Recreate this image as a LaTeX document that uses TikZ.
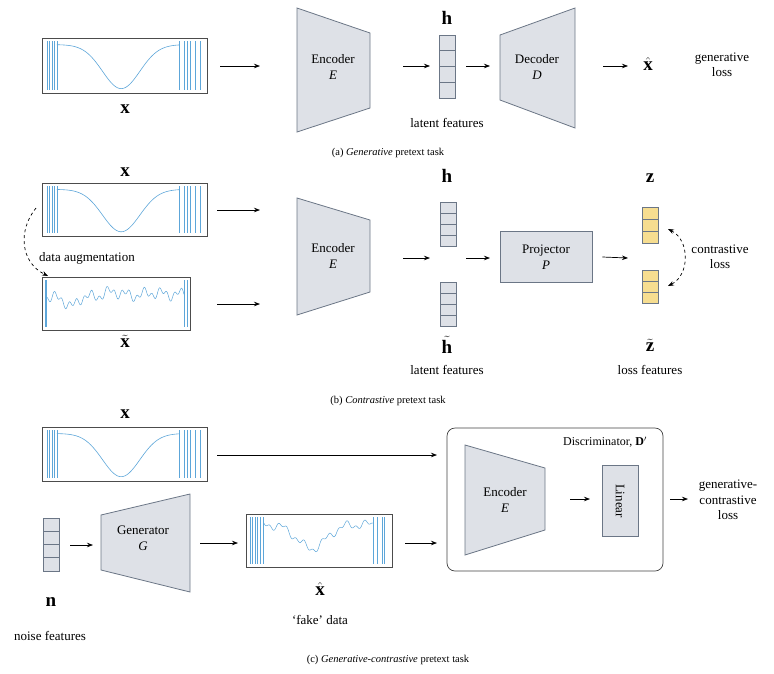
\documentclass[tikz,border=0pt]{standalone}
\usepackage{fontspec}
\setmainfont{Liberation Serif}
\usetikzlibrary{arrows.meta}
\definecolor{gfill}{HTML}{DEE1E7}
\definecolor{gline}{HTML}{6B7686}
\definecolor{sig}{HTML}{5DA6D9}
\definecolor{yel}{HTML}{F6DD90}
\tikzset{
 trap/.style={fill=gfill,draw=gline,line width=0.8pt},
 cell/.style={fill=gfill,draw=gline,line width=0.6pt},
 ycell/.style={fill=yel,draw=gline,line width=0.6pt},
 arr/.style={-{Stealth[length=6pt,width=4.5pt]},line width=0.7pt},
 darr/.style={-{Stealth[length=6pt,width=4.5pt]},line width=0.7pt,dashed},
 sbox/.style={draw=black!70,line width=0.6pt},
 lbl/.style={font=\fontsize{13}{15.5}\selectfont,align=center},
 captext/.style={font=\fontsize{10.5}{12}\selectfont},
 big/.style={font=\fontsize{19}{20}\selectfont},
}
\newcommand{\spk}[1]{\foreach \t in {#1}{\draw[sig,line width=0.5pt] (\t,0.06) -- (\t,0.94);}}
\newcommand{\cleansig}[4]{%
 \draw[sbox] (#1,#2) rectangle ++(#3,#4);
 \begin{scope}[shift={(#1,#2)},xscale=#3,yscale=#4]
  \spk{0.03,0.045,0.06,0.075,0.09,0.83,0.86,0.88,0.9,0.93,0.96}
  \draw[sig,line width=0.6pt,domain=0.09:0.83,samples=80,smooth] plot (\x,{0.12+0.8*exp(-((\x-0.48)/0.16)^2)});
 \end{scope}}
\newcommand{\stack}[5]{% x y h style n
 \foreach \i in {1,...,#5}{\draw[#4] (#1,{#2+(\i-1)*#3}) rectangle ++(16,#3);}}
\begin{document}
\begin{tikzpicture}[x=1pt,y=-1pt]
\useasboundingbox (0,0) rectangle (774,673);
% ---------- (a)
\cleansig{42}{38}{165}{55}
\node[big] (xa) at (125,109) {$\mathbf{x}$};
\coordinate (sa) at (220,66); \coordinate (ea) at (260,66);
\draw[arr] (sa) -- (ea);
\draw[trap] (297,8) -- (370,33) -- (370,108) -- (297,132) -- cycle;
\node[lbl] (enca) at (333,67) {Encoder\\\textit{E}};
\stack{439}{35}{15.75}{cell}{4}
\node[big] (ha) at (447,18) {$\mathbf{h}$};
\node[lbl] (lfa) at (447,123) {latent features};
\draw[arr] (403,66) -- (430,66);
\draw[arr] (466,66) -- (490,66);
\draw[trap] (500,35) -- (575,8) -- (575,128) -- (500,100) -- cycle;
\node[lbl] (deca) at (537,67) {Decoder\\\textit{D}};
\draw[arr] (603,66) -- (628,66);
\node[big] (xha) at (648,64) {$\hat{\mathbf{x}}$};
\node[lbl] (gla) at (722,65) {generative\\loss};
\node[captext] (capa) at (388,153) {(a) \textit{Generative} pretext task};
% ---------- (b)
\node[big] (xb) at (125,172) {$\mathbf{x}$};
\cleansig{42}{183}{165}{53}
\draw[sbox] (42,277) rectangle (190,330);
\begin{scope}[shift={(42,277)},xscale=148,yscale=53]
 \spk{0.02,0.03,0.96,0.98}
 \draw[sig,line width=0.5pt,domain=0.03:0.96,samples=160] plot (\x,{0.32+0.3*exp(-((\x-0.2)/0.06)^2)+0.07*sin(\x*3000)+0.06*sin(\x*7100+40)+0.08*sin(\x*1300)*(1-\x)});
\end{scope}
\node[big] (xtb) at (125,341) {$\tilde{\mathbf{x}}$};
\node[lbl] (da) at (87,258) {data augmentation};
\coordinate (d1) at (36,208); \coordinate (d2) at (48,276);
\draw[darr] (d1) .. controls (18,230) and (20,262) .. (d2);
\draw[arr] (217,210) -- (260,210);
\draw[arr] (217,304) -- (260,304);
\draw[trap] (297,198) -- (370,220) -- (370,292) -- (297,315) -- cycle;
\node[lbl] (encb) at (333,256) {Encoder\\\textit{E}};
\node[big] (hb) at (447,176) {$\mathbf{h}$};
\stack{440}{202}{11}{cell}{4}
\stack{440}{282}{11}{cell}{4}
\node[big] (htb) at (447,345) {$\tilde{\mathbf{h}}$};
\node[lbl] (lfb) at (447,370) {latent features};
\draw[arr] (403,258) -- (430,258);
\draw[arr] (466,258) -- (490,258);
\node[draw=gline,fill=gfill,line width=0.8pt,minimum width=92pt,minimum height=51pt,lbl] (proj) at (546,257) {Projector\\\textit{P}};
\coordinate (pz) at (628,258);
\draw[arr] ([xshift=10pt]proj.east) -- (pz);
\node[big] (zb) at (650,178) {$\mathbf{z}$};
\stack{642}{207}{12}{ycell}{3}
\stack{642}{270}{11}{ycell}{3}
\node[big] (ztb) at (650,345) {$\tilde{\mathbf{z}}$};
\node[lbl] (lfz) at (650,370) {loss features};
\coordinate (c1) at (668,229); \coordinate (c2) at (668,286);
\draw[darr,{Stealth[length=6pt,width=4.5pt]}-{Stealth[length=6pt,width=4.5pt]}] (c1) .. controls (690,240) and (690,275) .. (c2);
\node[lbl] (clb) at (720,257) {contrastive\\loss};
\node[captext] (capb) at (388,401) {(b) \textit{Contrastive} pretext task};
% ---------- (c)
\node[big] (xc) at (125,414) {$\mathbf{x}$};
\cleansig{42}{427}{165}{54}
\draw[rounded corners=8pt,draw=black!75,line width=0.7pt] (447,428) rectangle (663,571);
\node[font=\fontsize{12}{14}\selectfont] (disc) at (605,442) {Discriminator, $\mathbf{D}'$};
\draw[arr] (217,455) -- (437,455);
\draw[trap] (465,445) -- (545,468) -- (545,530) -- (465,555) -- cycle;
\node[lbl] (encc) at (505,500) {Encoder\\\textit{E}};
\draw[arr] (570,499) -- (590,499);
\node[draw=gline,fill=gfill,line width=0.8pt,minimum width=36pt,minimum height=71pt] (lin) at (620,501) {};
\node[lbl,rotate=-90] at (lin) {Linear};
\draw[arr] (670,499) -- (688,499);
\node[lbl] (gcl) at (728,500) {generative-\\contrastive\\loss};
\stack{43}{518}{13.25}{cell}{4}
\node[big] (nc) at (51,602) {$\mathbf{n}$};
\node[lbl] (nf) at (50,636) {noise features};
\draw[arr] (70,545) -- (93,545);
\draw[trap] (101,515) -- (190,494) -- (190,592) -- (101,570) -- cycle;
\node[lbl] (gen) at (143,538) {Generator\\\textit{G}};
\draw[arr] (200,543) -- (238,543);
\draw[sbox] (246,514) rectangle (392,567);
\begin{scope}[shift={(246,514)},xscale=146,yscale=53]
 \spk{0.03,0.045,0.06,0.08,0.1,0.12,0.87,0.9,0.93,0.95}
 \draw[sig,line width=0.5pt,domain=0.12:0.87,samples=150] plot (\x,{0.2+0.45*exp(-((\x-0.45)/0.14)^2)+0.06*sin(\x*2500)+0.04*sin(\x*6100)});
\end{scope}
\node[big] (xhc) at (320,589) {$\hat{\mathbf{x}}$};
\node[lbl] (fd) at (320,620) {`fake' data};
\draw[arr] (405,543) -- (437,543);
\node[captext] (capc) at (388,660) {(c) \textit{Generative-contrastive} pretext task};
\end{tikzpicture}
\end{document}
